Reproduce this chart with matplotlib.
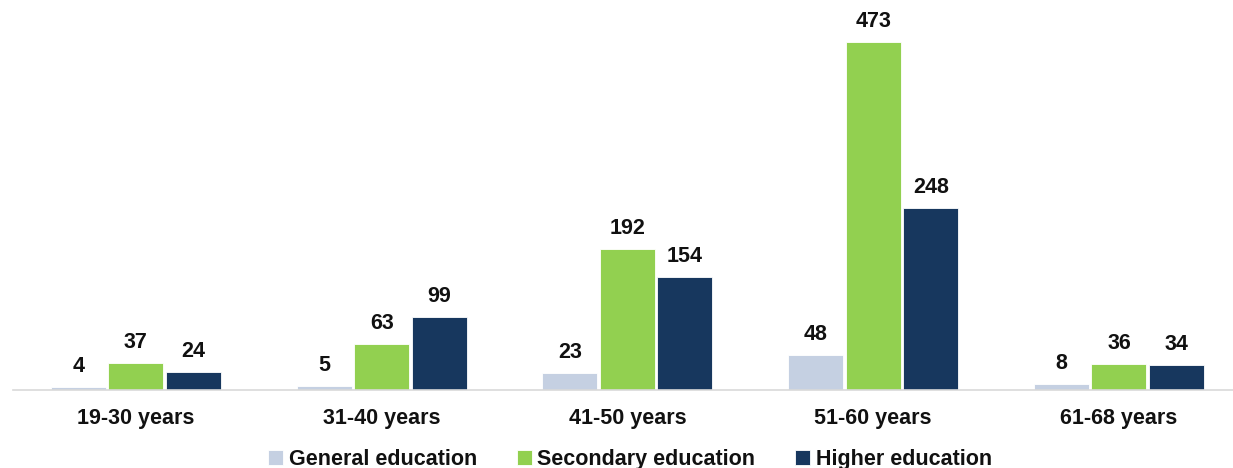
import matplotlib.pyplot as plt
import numpy as np

plt.rcParams["font.family"] = ["Liberation Sans", "DejaVu Sans"]
plt.rcParams["font.weight"] = "bold"

age_groups = ["19-30 years", "31-40 years", "41-50 years", "51-60 years", "61-68 years"]
general = [4, 5, 23, 48, 8]
secondary = [37, 63, 192, 473, 36]
higher = [24, 99, 154, 248, 34]

series = [
    ("General education", general, "#C5D0E2"),
    ("Secondary education", secondary, "#92D050"),
    ("Higher education", higher, "#17375E"),
]

fig = plt.figure(figsize=(12.33, 4.68), dpi=100)
ax = fig.add_axes([13 / 1233, 78 / 468, 1220 / 1233, 390 / 468])

x = np.arange(len(age_groups))
width = 0.224
offsets = [-0.234, 0, 0.234]

for (name, vals, color), off in zip(series, offsets):
    bars = ax.bar(x + off, vals, width, color=color, label=name,
                  edgecolor="white", linewidth=0.6)
    for b, v in zip(bars, vals):
        ax.annotate(str(v), (b.get_x() + b.get_width() / 2, b.get_height()),
                    xytext=(0, 10), textcoords="offset pixels",
                    ha="center", va="bottom", fontsize=15.5,
                    fontweight="bold", color="#111111")

ax.set_xlim(-0.5, 4.464)
ax.set_ylim(0, 530)
ax.set_xticks(x)
ax.set_xticklabels(age_groups, fontsize=15.5, fontweight="bold", color="#111111")
ax.tick_params(axis="x", length=0, pad=13)
ax.set_yticks([])
for s in ["top", "right", "left"]:
    ax.spines[s].set_visible(False)
ax.spines["bottom"].set_color("#D9D9D9")
ax.spines["bottom"].set_linewidth(1.2)

fig.legend(loc="lower center", bbox_to_anchor=(0.511, -0.045), ncol=3,
           frameon=False, handlelength=0.7, handleheight=0.7,
           handletextpad=0.25, columnspacing=1.85, labelcolor="#111111",
           prop={"weight": "bold", "size": 15.5})

fig.savefig("out.png", dpi=100)
plt.close(fig)
